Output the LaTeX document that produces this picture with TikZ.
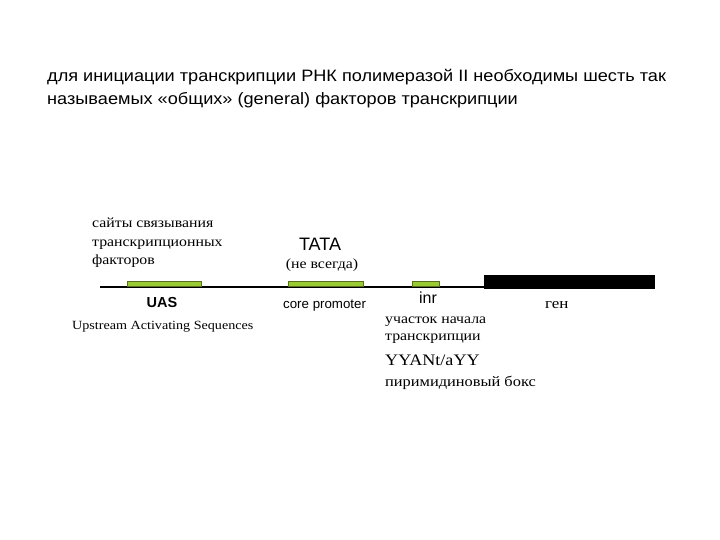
\documentclass[tikz,border=0pt]{standalone}
\usepackage{fontspec}
\setmainfont[FakeStretch=1.13]{Liberation Serif}
\newfontfamily\arialf{Liberation Sans}
\newfontfamily\titlef[FakeStretch=1.1]{Liberation Sans}
\definecolor{boxgreen}{RGB}{153,204,51}
\definecolor{boxedge}{RGB}{90,110,30}
\begin{document}
\begin{tikzpicture}[x=1pt,y=-1pt,
  txt/.style={inner sep=0pt, anchor=base west},
  ctxt/.style={inner sep=0pt, anchor=base},
  site/.style={fill=boxgreen, draw=boxedge, line width=0.8pt, inner sep=0pt, anchor=south west, minimum height=5.5pt}]
\useasboundingbox (0,0) rectangle (720,540);
\fill[white] (0,0) rectangle (720,540);
% title
\node[txt] (t1) at (47,82) {\titlef\fontsize{16.5}{18}\selectfont для инициации транскрипции РНК полимеразой II необходимы шесть так};
\node[txt] (t2) at (47,105) {\titlef\fontsize{16.5}{18}\selectfont называемых «общих» (general) факторов транскрипции};
% DNA
\coordinate (dnaL) at (100,287);
\coordinate (dnaR) at (485,287);
\draw[line width=2.5pt] (dnaL) -- (dnaR);
\node[fill=black, inner sep=0pt, anchor=north west, minimum width=171pt, minimum height=13.5pt] (gene) at (484,275) {};
\node[site, minimum width=74pt] (uas) at (127,287) {};
\node[site, minimum width=75pt] (tata) at (288,287) {};
\node[site, minimum width=27pt] (inr) at (412,287) {};
% labels
\node[txt] (s1) at (92,228) {\fontsize{14}{16}\selectfont сайты связывания};
\node[txt] (s2) at (92,246) {\fontsize{14}{16}\selectfont транскрипционных};
\node[txt] (s3) at (92,264) {\fontsize{14}{16}\selectfont факторов};
\node[ctxt] (tatal) at (320,250) {\arialf\fontsize{18}{20}\selectfont TATA};
\node[ctxt] (nv) at (322,268) {\fontsize{14}{16}\selectfont (не всегда)};
\node[ctxt] (uasl) at (162,307) {\arialf\bfseries\fontsize{14.5}{16}\selectfont UAS};
\node[txt] (uasf) at (72,329) {\fontsize{12.5}{15}\selectfont Upstream Activating Sequences};
\node[txt] (core) at (283,308) {\arialf\fontsize{13.3}{15}\selectfont core promoter};
\node[ctxt] (inrl) at (428,303) {\arialf\fontsize{16}{18}\selectfont inr};
\node[txt] (gen) at (545,308) {\fontsize{15}{15}\selectfont ген};
\node[txt] (u1) at (385,323) {\fontsize{14}{16}\selectfont участок начала};
\node[txt] (u2) at (385,340) {\fontsize{14}{16}\selectfont транскрипции};
\node[txt] (yy) at (385,365) {\fontsize{16}{20}\selectfont YYANt/aYY};
\node[txt] (pb) at (385,386) {\fontsize{14.5}{15}\selectfont пиримидиновый бокс};
\end{tikzpicture}
\end{document}
